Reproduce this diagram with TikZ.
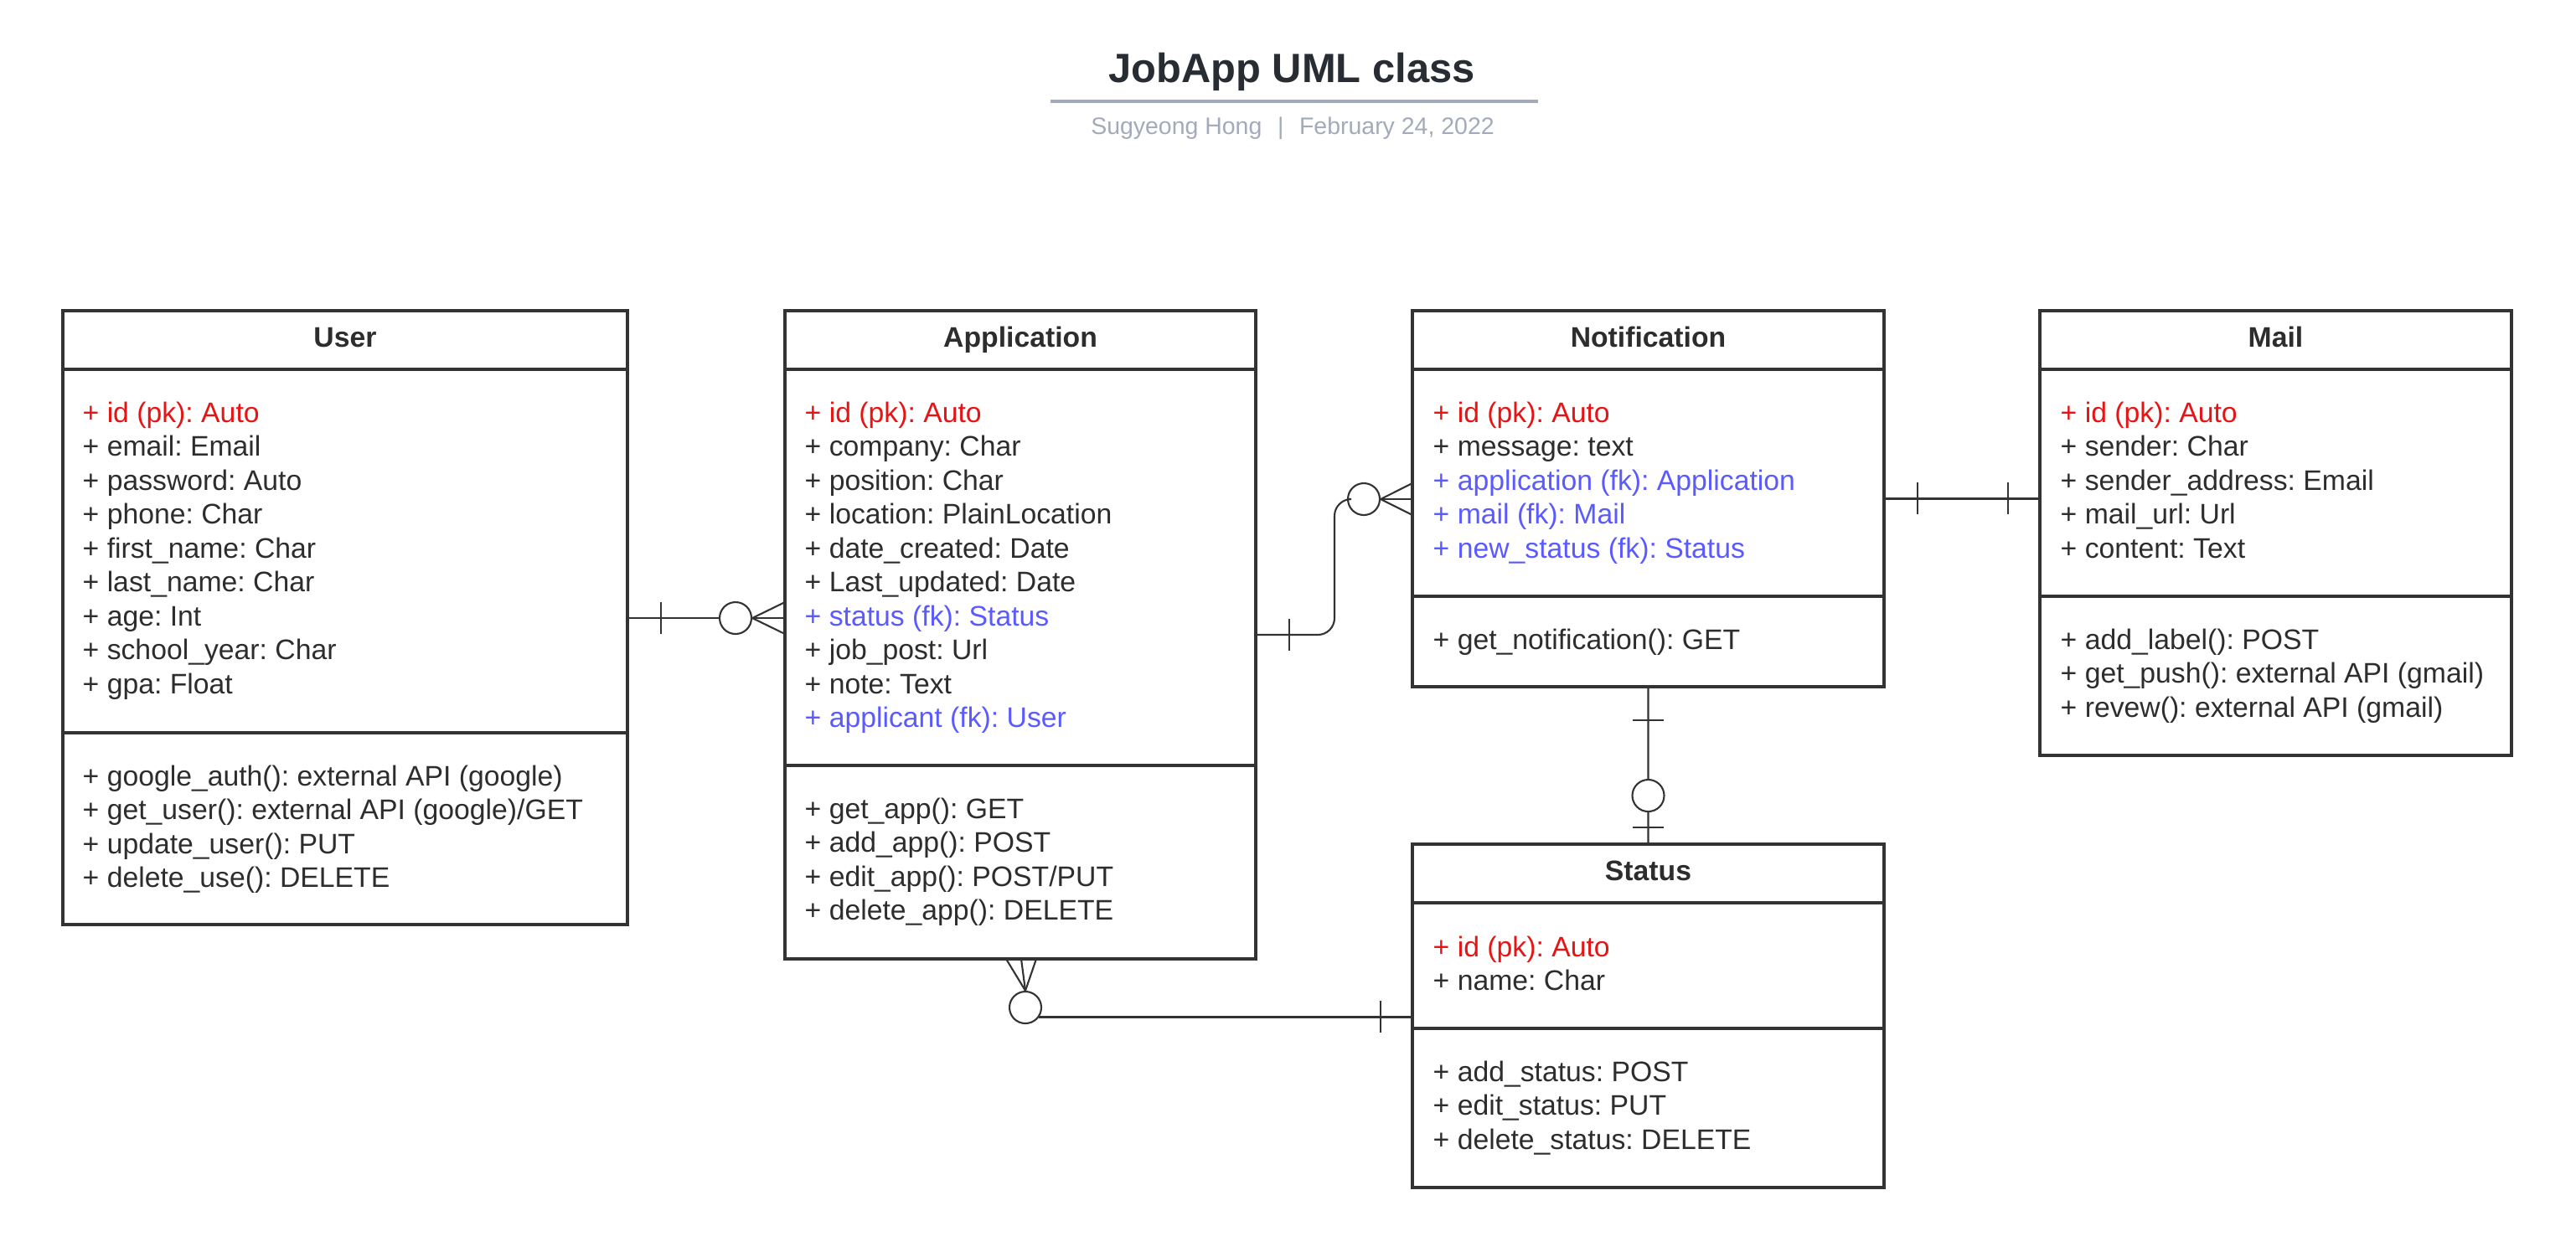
\documentclass[tikz,border=0pt]{standalone}
\usepackage{fontspec}
\setmainfont{Liberation Sans}
\usetikzlibrary{calc}
\frenchspacing

\definecolor{line}{RGB}{51,51,51}
\definecolor{ink}{RGB}{45,45,45}
\definecolor{titleink}{RGB}{40,44,51}
\definecolor{subgray}{RGB}{163,170,185}
\definecolor{pkred}{RGB}{230,20,20}
\definecolor{fkblue}{RGB}{90,90,255}

\newcommand{\pkey}[1]{\textcolor{pkred}{#1}}
\newcommand{\fkey}[1]{\textcolor{fkblue}{#1}}

\begin{document}
\begin{tikzpicture}
\tikzset{
	cls/.style={draw=line, line width=1.1pt, anchor=north west, inner sep=0pt, outer sep=0pt},
	div/.style={draw=line, line width=1.1pt},
	hd/.style={font=\bfseries\fontsize{9.6}{11.52}\selectfont, text=ink, anchor=base},
	attr/.style={anchor=north west, inner sep=0pt, align=left, font=\fontsize{9.6}{11.52}\selectfont, text=ink},
	conn/.style={draw=line, line width=0.6pt},
	zero/.style={circle, draw=line, line width=0.6pt, minimum size=0.38cm, inner sep=0pt, fill=white}
}
\useasboundingbox (0,0) rectangle (30.75,-14.94);

% title
\node[font=\bfseries\fontsize{13.9}{16}\selectfont, text=titleink, anchor=base] (title) at (15.42,-0.98) {JobApp UML class};
\draw[draw=subgray, line width=1.1pt] (12.54,-1.21) -- (18.36,-1.21);
\node[font=\fontsize{8.1}{10}\selectfont, text=subgray, anchor=base] (sub) at (15.43,-1.60) {Sugyeong Hong\hspace{5.3pt}|\hspace{5.3pt}February 24, 2022};

% User
\node[cls, minimum width=6.74cm, minimum height=7.33cm] (user) at (0.75,-3.71) {};
\draw[div] (0.75,-4.41) -- (7.49,-4.41);
\draw[div] (0.75,-8.75) -- (7.49,-8.75);
\node[hd] (user_h) at (4.12,-4.14) {User};
\node[attr] (user_a) at (0.98,-4.79) {\pkey{+ id (pk): Auto}\\+ email: Email\\+ password: Auto\\+ phone: Char\\+ first\_name: Char\\+ last\_name: Char\\+ age: Int\\+ school\_year: Char\\+ gpa: Float};
\node[attr] (user_m) at (0.98,-9.13) {+ google\_auth(): external API (google)\\+ get\_user(): external API (google)/GET\\+ update\_user(): PUT\\+ delete\_use(): DELETE};

% Application
\node[cls, minimum width=5.62cm, minimum height=7.74cm] (app) at (9.37,-3.71) {};
\draw[div] (9.37,-4.41) -- (14.99,-4.41);
\draw[div] (9.37,-9.14) -- (14.99,-9.14);
\node[hd] (app_h) at (12.18,-4.14) {Application};
\node[attr] (app_a) at (9.60,-4.79) {\pkey{+ id (pk): Auto}\\+ company: Char\\+ position: Char\\+ location: PlainLocation\\+ date\_created: Date\\+ Last\_updated: Date\\\fkey{+ status (fk): Status}\\+ job\_post: Url\\+ note: Text\\\fkey{+ applicant (fk): User}};
\node[attr] (app_m) at (9.60,-9.52) {+ get\_app(): GET\\+ add\_app(): POST\\+ edit\_app(): POST/PUT\\+ delete\_app(): DELETE};

% Notification
\node[cls, minimum width=5.63cm, minimum height=4.49cm] (notif) at (16.86,-3.71) {};
\draw[div] (16.86,-4.41) -- (22.49,-4.41);
\draw[div] (16.86,-7.12) -- (22.49,-7.12);
\node[hd] (notif_h) at (19.675,-4.14) {Notification};
\node[attr] (notif_a) at (17.10,-4.79) {\pkey{+ id (pk): Auto}\\+ message: text\\\fkey{+ application (fk): Application}\\\fkey{+ mail (fk): Mail}\\\fkey{+ new\_status (fk): Status}};
\node[attr] (notif_m) at (17.10,-7.50) {+ get\_notification(): GET};

% Mail
\node[cls, minimum width=5.63cm, minimum height=5.31cm] (mail) at (24.35,-3.71) {};
\draw[div] (24.35,-4.41) -- (29.98,-4.41);
\draw[div] (24.35,-7.12) -- (29.98,-7.12);
\node[hd] (mail_h) at (27.165,-4.14) {Mail};
\node[attr] (mail_a) at (24.59,-4.79) {\pkey{+ id (pk): Auto}\\+ sender: Char\\+ sender\_address: Email\\+ mail\_url: Url\\+ content: Text};
\node[attr] (mail_m) at (24.59,-7.50) {+ add\_label(): POST\\+ get\_push(): external API (gmail)\\+ revew(): external API (gmail)};

% Status
\node[cls, minimum width=5.63cm, minimum height=4.10cm] (stat) at (16.86,-10.08) {};
\draw[div] (16.86,-10.78) -- (22.49,-10.78);
\draw[div] (16.86,-12.28) -- (22.49,-12.28);
\node[hd] (stat_h) at (19.675,-10.51) {Status};
\node[attr] (stat_a) at (17.10,-11.17) {\pkey{+ id (pk): Auto}\\+ name: Char};
\node[attr] (stat_m) at (17.10,-12.66) {+ add\_status: POST\\+ edit\_status: PUT\\+ delete\_status: DELETE};

% User -- Application
\node[zero] (c1) at (8.78,-7.38) {};
\draw[conn] (user.east |- c1) -- (c1.west);
\draw[conn] (7.89,-7.19) -- (7.89,-7.57);
\draw[conn] (c1.east) -- (app.west |- c1);
\draw[conn] (c1.east) -- ($(app.west |- c1)+(0,0.19)$);
\draw[conn] (c1.east) -- ($(app.west |- c1)+(0,-0.19)$);

% Application -- Notification
\node[zero] (c2) at (16.28,-5.96) {};
\draw[conn, rounded corners=0.2cm] (app.east) -- (15.93,-7.58) -- (15.93,-5.96) -- (c2.west);
\draw[conn] (15.39,-7.39) -- (15.39,-7.77);
\draw[conn] (c2.east) -- (notif.west |- c2);
\draw[conn] (c2.east) -- ($(notif.west |- c2)+(0,0.19)$);
\draw[conn] (c2.east) -- ($(notif.west |- c2)+(0,-0.19)$);

% Notification -- Mail
\draw[conn] (notif.east) -- (notif.east -| mail.west);
\draw[conn] (22.89,-5.76) -- (22.89,-6.14);
\draw[conn] (23.97,-5.76) -- (23.97,-6.14);

% Notification -- Status
\node[zero] (c3) at (19.675,-9.50) {};
\draw[conn] (notif.south) -- (c3.north);
\draw[conn] (c3.south) -- (stat.north);
\draw[conn] (19.49,-8.60) -- (19.86,-8.60);
\draw[conn] (19.49,-9.88) -- (19.86,-9.88);

% Application -- Status
\node[zero] (c4) at (12.24,-12.03) {};
\draw[conn] (c4.-35) -- (c4.-35 -| stat.west);
\draw[conn] (16.48,-11.95) -- (16.48,-12.33);
\draw[conn] (c4.north) -- ($(c4.north |- app.south)+(-0.23,0)$);
\draw[conn] (c4.north) -- ($(c4.north |- app.south)+(-0.05,0)$);
\draw[conn] (c4.north) -- ($(c4.north |- app.south)+(0.13,0)$);

\end{tikzpicture}
\end{document}
